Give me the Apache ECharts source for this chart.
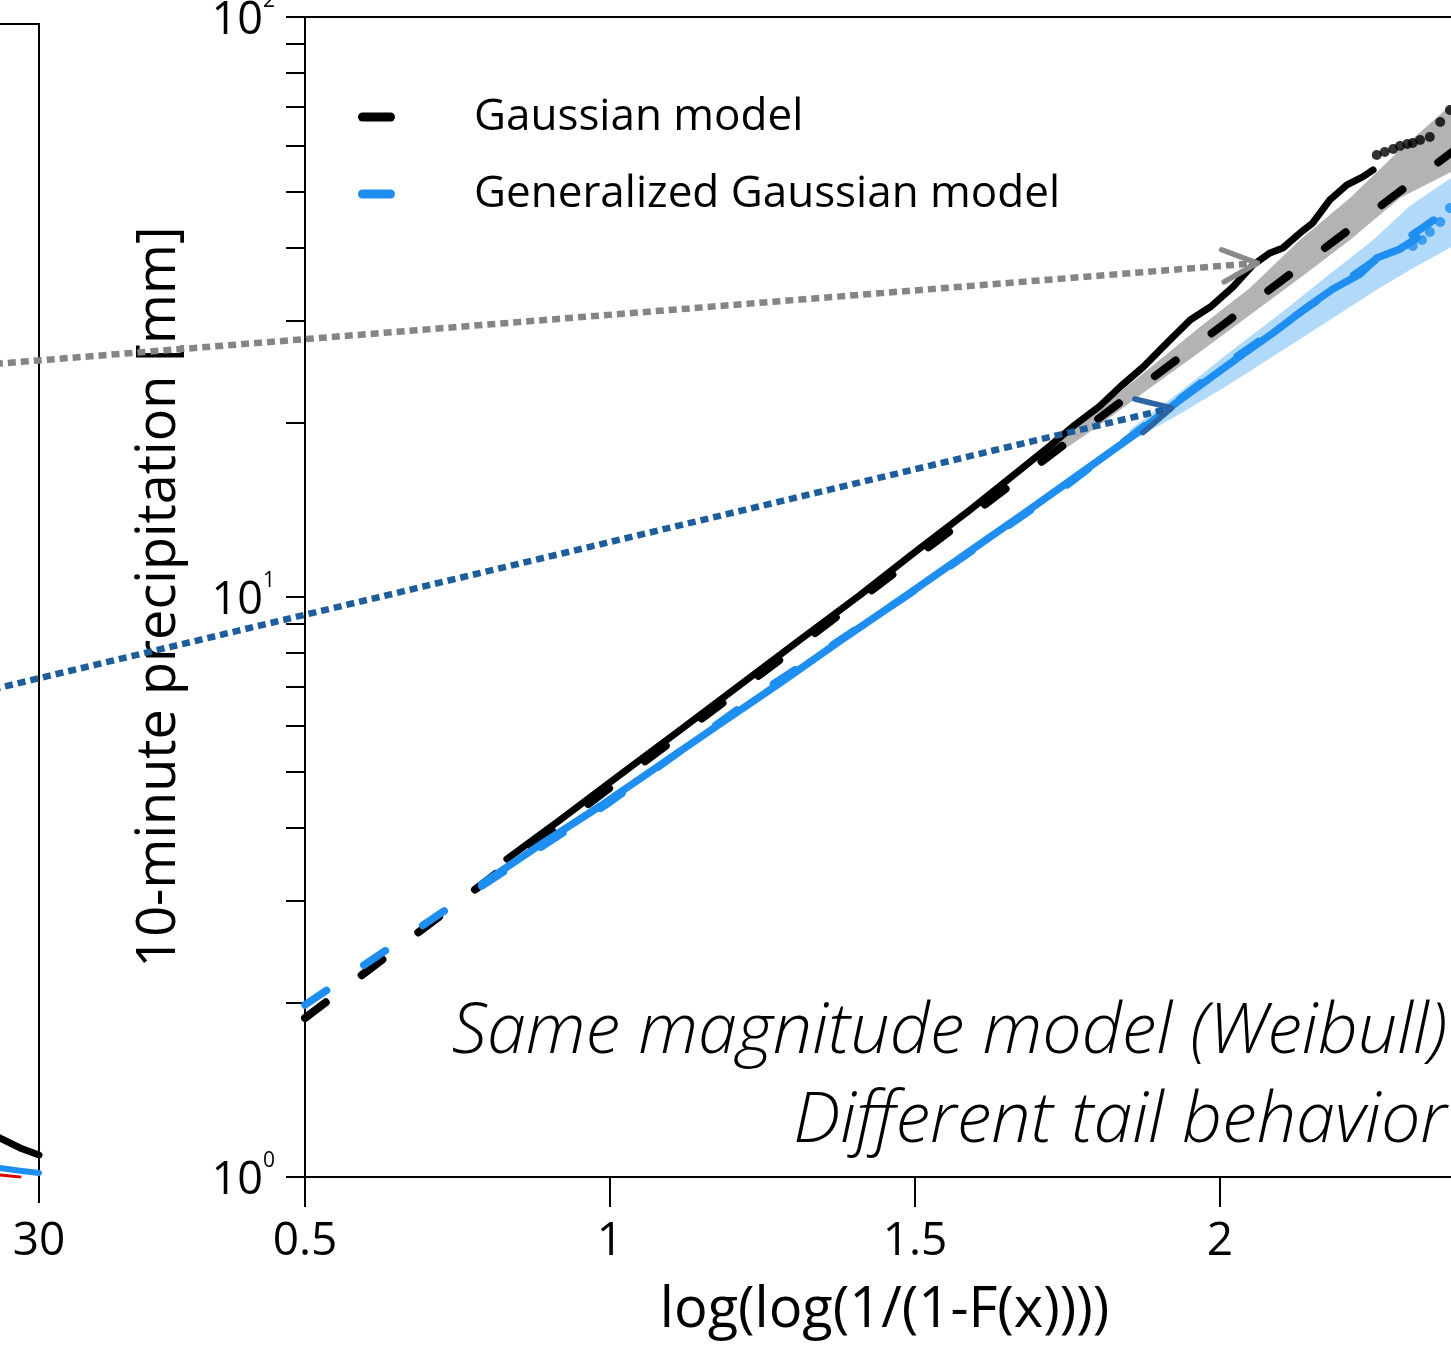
<!DOCTYPE html>
<html>
<head>
<meta charset="utf-8">
<script src="https://cdn.jsdelivr.net/npm/echarts@6/dist/echarts.min.js"></script>
<style>
  html, body { margin: 0; padding: 0; background: #fff; }
  #chart { width: 1451px; height: 1357px; }
</style>
</head>
<body>
<div id="chart"></div>
<script>
const FONT = "'Open Sans', 'Noto Sans', sans-serif";

// ---- left panel (only its right edge is in view) ----
const leftBlackX = [27.6, 28.42, 29.23, 30];
const leftBlackY = [4.3, 3.38, 2.52, 1.91];
const leftBlueX = [27.6, 28.42, 29.23, 30];
const leftBlueY = [0.92, 0.78, 0.55, 0.35];
const leftRedX = [27.6, 28.42, 29.23];
const leftRedY = [0.26, 0.17, 0.0];

// ---- Weibull plot: fitted models (dashed) ----
const gaussFitX = [0.5, 0.75, 1.0, 1.25, 1.5, 1.75, 2.0, 2.25, 2.5];
const gaussFitY = [1.88, 2.97, 4.69, 7.40, 11.7, 18.5, 29.2, 46.1, 72.8];
const genFitX = [0.5, 0.75, 1.0, 1.25, 1.5, 1.75, 2.0, 2.25, 2.5];
const genFitY = [1.98, 2.98, 4.43, 6.88, 10.27, 15.62, 24.79, 37.8, 57.2];

// ---- Weibull plot: samples ----
const gaussObsX = [0.831, 0.918, 1.016, 1.115, 1.213, 1.311, 1.410, 1.500, 1.590, 1.672, 1.721, 1.762, 1.803, 1.836, 1.874, 1.913, 1.951, 1.984, 2.021, 2.054, 2.082, 2.103, 2.131, 2.152, 2.180, 2.208, 2.234, 2.251];
const gaussObsY = [3.534, 4.126, 4.933, 5.898, 7.052, 8.432, 10.08, 11.96, 14.13, 16.56, 18.21, 19.80, 21.35, 23.02, 24.92, 27.41, 30.03, 31.62, 34.23, 37.36, 39.19, 39.97, 42.42, 44.15, 48.37, 51.33, 52.99, 54.49];
const gaussTailX = [2.257, 2.270, 2.284, 2.295, 2.307, 2.316, 2.328, 2.344, 2.361, 2.377];
const gaussTailY = [57.81, 58.51, 59.22, 59.93, 60.40, 60.65, 61.37, 62.11, 65.91, 69.13];

const genObsX = [0.790, 0.885, 0.984, 1.082, 1.180, 1.279, 1.377, 1.475, 1.590, 1.689, 1.770, 1.857, 1.930, 1.984, 2.038, 2.087, 2.143, 2.185, 2.230, 2.257, 2.295, 2.323];
const genObsY = [3.201, 3.736, 4.362, 5.133, 6.040, 7.109, 8.398, 9.88, 12.00, 14.18, 16.30, 18.95, 21.69, 23.85, 26.24, 28.52, 31.62, 33.96, 36.06, 38.41, 39.81, 41.59];
const genTailX = [2.316, 2.331, 2.344, 2.361, 2.377];
const genTailY = [40.29, 41.26, 42.58, 44.33, 46.85];

// ---- uncertainty bands ----
const gaussBandX = [1.705, 1.803, 1.885, 1.967, 2.049, 2.131, 2.213, 2.295, 2.379, 2.420];
const gaussBandLo = [16.82, 19.80, 22.93, 26.45, 30.63, 35.48, 41.26, 48.75, 54.07, 56.68];
const gaussBandHi = [17.37, 21.18, 24.82, 29.22, 34.11, 41.26, 48.75, 58.98, 70.53, 75.44];
const genBandX = [1.852, 1.934, 2.016, 2.098, 2.180, 2.251, 2.311, 2.379, 2.420];
const genBandLo = [18.50, 20.68, 23.30, 26.45, 30.03, 33.57, 36.63, 40.12, 42.09];
const genBandHi = [19.41, 22.57, 26.45, 30.75, 36.06, 41.26, 47.22, 52.78, 55.57];

// ---- axes ----
const xTickStep = 0.5;
const yMinorTicks = [1, 2, 3, 4, 5, 6, 7, 8, 9, 10, 20, 30, 40, 50, 60, 70, 80, 90, 100];
const yMajorTicks = [1, 10, 100];

// ---- connector arrows: start in left panel coords, end in Weibull plot coords ----
const grayArrowStart = [24, 69.8];
const grayArrowEnd = [2.061, 37.65];
const blueArrowStart = [24, 40.2];
const blueArrowEnd = [1.921, 21.18];

const BLUE = '#1e8ef0';
const pairs = (xs, ys) => xs.map((x, i) => [x, ys[i]]);

function band(name, xs, lo, hi, fill) {
  return {
    name: name, type: 'custom', xAxisIndex: 2, yAxisIndex: 1, silent: true, clip: true,
    encode: { x: 0, y: [1, 2] },
    data: xs.map((x, i) => [x, lo[i], hi[i]]),
    renderItem: function (params, api) {
      if (params.dataIndex !== 0) return;
      const pts = [];
      for (let i = 0; i < xs.length; i++) pts.push(api.coord([xs[i], hi[i]]));
      for (let i = xs.length - 1; i >= 0; i--) pts.push(api.coord([xs[i], lo[i]]));
      return { type: 'polygon', shape: { points: pts }, style: { fill: fill } };
    }
  };
}

function line(name, xs, ys, color, width, dash, xi, yi) {
  return {
    name: name, type: 'line', xAxisIndex: xi, yAxisIndex: yi,
    data: pairs(xs, ys), showSymbol: false, symbol: 'none', clip: true, silent: true,
    color: color,
    lineStyle: { color: color, width: width, type: dash || 'solid', cap: 'round', join: 'round' }
  };
}

function dots(name, xs, ys, color) {
  return {
    name: name, type: 'scatter', xAxisIndex: 2, yAxisIndex: 1, silent: true,
    data: pairs(xs, ys), symbolSize: 10, itemStyle: { color: color }
  };
}

const axisLineStyle = { color: '#000', width: 2 };
// short bar with rounded ends for the legend keys
const LEGEND_BAR = 'path://M4.5,0 L32.5,0 A4.5,4.5 0 0 1 32.5,9 L4.5,9 A4.5,4.5 0 0 1 4.5,0 Z';

const option = {
  animation: false,
  backgroundColor: '#fff',
  grid: [
    { left: -700, top: 24, width: 739, height: 1153, outerBoundsMode: 'none', containLabel: false },
    { left: 305, top: 17, width: 1159, height: 1160, outerBoundsMode: 'none', containLabel: false }
  ],
  xAxis: [
    { gridIndex: 0, type: 'value', min: 0, max: 30, interval: 10, position: 'bottom',
      axisLine: { show: false, onZero: false }, splitLine: { show: false },
      axisTick: { show: true, length: 26, lineStyle: axisLineStyle },
      axisLabel: { margin: 42, fontSize: 46, color: '#000', fontFamily: FONT } },
    { gridIndex: 0, type: 'value', min: 0, max: 30, position: 'top',
      axisLine: { show: true, onZero: false, lineStyle: axisLineStyle }, axisTick: { show: false },
      axisLabel: { show: false }, splitLine: { show: false } },
    { gridIndex: 1, type: 'value', min: 0.5, max: 2.4, interval: xTickStep, position: 'bottom',
      axisLine: { show: true, onZero: false, lineStyle: axisLineStyle }, splitLine: { show: false },
      axisTick: { show: true, length: 30, lineStyle: axisLineStyle },
      axisLabel: { margin: 42, fontSize: 46, color: '#000', fontFamily: FONT, showMaxLabel: false },
      name: 'log(log(1/(1-F(x))))', nameLocation: 'middle', nameGap: 106,
      nameTextStyle: { fontSize: 56, color: '#000', fontFamily: FONT, verticalAlign: 'top' } },
    { gridIndex: 1, type: 'value', min: 0.5, max: 2.4, position: 'top',
      axisLine: { show: true, onZero: false, lineStyle: axisLineStyle }, axisTick: { show: false },
      axisLabel: { show: false }, splitLine: { show: false } }
  ],
  yAxis: [
    { gridIndex: 0, type: 'value', min: 0, max: 100, position: 'right',
      axisLine: { show: true, onZero: false, lineStyle: axisLineStyle }, axisTick: { show: false },
      axisLabel: { show: false }, splitLine: { show: false } },
    { gridIndex: 1, type: 'log', logBase: 10, min: 1, max: 100, position: 'left',
      axisLine: { show: true, onZero: false, lineStyle: axisLineStyle }, splitLine: { show: false },
      axisTick: { show: true, length: 19, lineStyle: axisLineStyle, customValues: yMinorTicks },
      axisLabel: {
        margin: 30, color: '#000', fontFamily: FONT, customValues: yMajorTicks,
        formatter: v => '{b|10}{s|' + Math.round(Math.log10(v)) + '}',
        rich: {
          b: { fontSize: 45, fontFamily: FONT, color: '#000', padding: [8, 0, 0, 0] },
          s: { fontSize: 21, fontFamily: FONT, color: '#000', verticalAlign: 'top' }
        }
      },
      name: '10-minute precipitation [mm]', nameLocation: 'middle', nameGap: 118, nameRotate: 90,
      nameTextStyle: { fontSize: 54, color: '#000', fontFamily: FONT } }
  ],
  legend: {
    orient: 'vertical', left: 358, top: 92, padding: 0, itemGap: 27, itemWidth: 37, itemHeight: 9,
    selectedMode: false,
    icon: LEGEND_BAR,
    itemStyle: { borderWidth: 0, borderColor: 'transparent' },
    lineStyle: { width: 0 },
    textStyle: { fontSize: 44, lineHeight: 50, color: '#000', fontFamily: FONT, padding: [0, 0, 0, 74] },
    data: [
      { name: 'Gaussian model', itemStyle: { color: '#000', borderWidth: 0 } },
      { name: 'Generalized Gaussian model', itemStyle: { color: BLUE, borderWidth: 0 } }
    ]
  },
  series: [
    line('left black', leftBlackX, leftBlackY, '#000', 7, null, 0, 0),
    line('left red', leftRedX, leftRedY, '#e00000', 3, null, 0, 0),
    line('left blue', leftBlueX, leftBlueY, BLUE, 6, null, 0, 0),
    band('Gaussian band', gaussBandX, gaussBandLo, gaussBandHi, 'rgba(128,128,128,0.6)'),
    band('Generalized Gaussian band', genBandX, genBandLo, genBandHi, 'rgba(40,150,240,0.36)'),
    line('Gaussian model', gaussFitX, gaussFitY, '#000', 8, [26, 45], 2, 1),
    line('Generalized Gaussian model', genFitX, genFitY, BLUE, 7.5, [26, 45], 2, 1),
    line('Gaussian sample', gaussObsX, gaussObsY, '#000', 7, null, 2, 1),
    dots('Gaussian sample tail', gaussTailX, gaussTailY, '#000'),
    line('Generalized Gaussian sample', genObsX, genObsY, BLUE, 7.5, null, 2, 1),
    dots('Generalized Gaussian sample tail', genTailX, genTailY, BLUE)
  ]
};

const chart = echarts.init(document.getElementById('chart'), null, { renderer: 'canvas' });
chart.setOption(option);

// dotted connector with an open chevron head
function arrow(p0, p1, color, headColor, theta, len) {
  const dx = p1[0] - p0[0], dy = p1[1] - p0[1], n = Math.hypot(dx, dy);
  const bx = -dx / n, by = -dy / n;
  const arm = a => [p1[0] + len * (bx * Math.cos(a) - by * Math.sin(a)),
                    p1[1] + len * (bx * Math.sin(a) + by * Math.cos(a))];
  return [
    { type: 'polyline', z: 10, silent: true, shape: { points: [p0, p1] },
      style: { stroke: color, lineWidth: 6.5, lineDash: [8, 5], fill: null } },
    { type: 'polyline', z: 10, silent: true, shape: { points: [arm(theta), p1, arm(-theta)] },
      style: { stroke: headColor, lineWidth: 5.5, lineCap: 'round', lineJoin: 'round', fill: null } }
  ];
}

const leftFinder = { xAxisIndex: 0, yAxisIndex: 0 };
const mainFinder = { xAxisIndex: 2, yAxisIndex: 1 };
const g0 = chart.convertToPixel(leftFinder, grayArrowStart);
const g1 = chart.convertToPixel(mainFinder, grayArrowEnd);
const b0 = chart.convertToPixel(leftFinder, blueArrowStart);
const b1 = chart.convertToPixel(mainFinder, blueArrowEnd);

const textStyle = { fontSize: 70, fontFamily: FONT, fontStyle: 'italic', fontWeight: 300, fill: '#000', align: 'right', verticalAlign: 'middle' };

chart.setOption({
  graphic: [
    ...arrow(g0, g1, '#858585', '#8a8a8a', 25 * Math.PI / 180, 38),
    ...arrow(b0, b1, '#1d5d9b', '#2b65a3', 27 * Math.PI / 180, 38),
    { type: 'text', x: 1447, y: 1033, silent: true, style: Object.assign({ text: 'Same magnitude model (Weibull)' }, textStyle) },
    { type: 'text', x: 1447, y: 1122, silent: true, style: Object.assign({ text: 'Different tail behavior' }, textStyle) }
  ]
});
</script>
</body>
</html>
